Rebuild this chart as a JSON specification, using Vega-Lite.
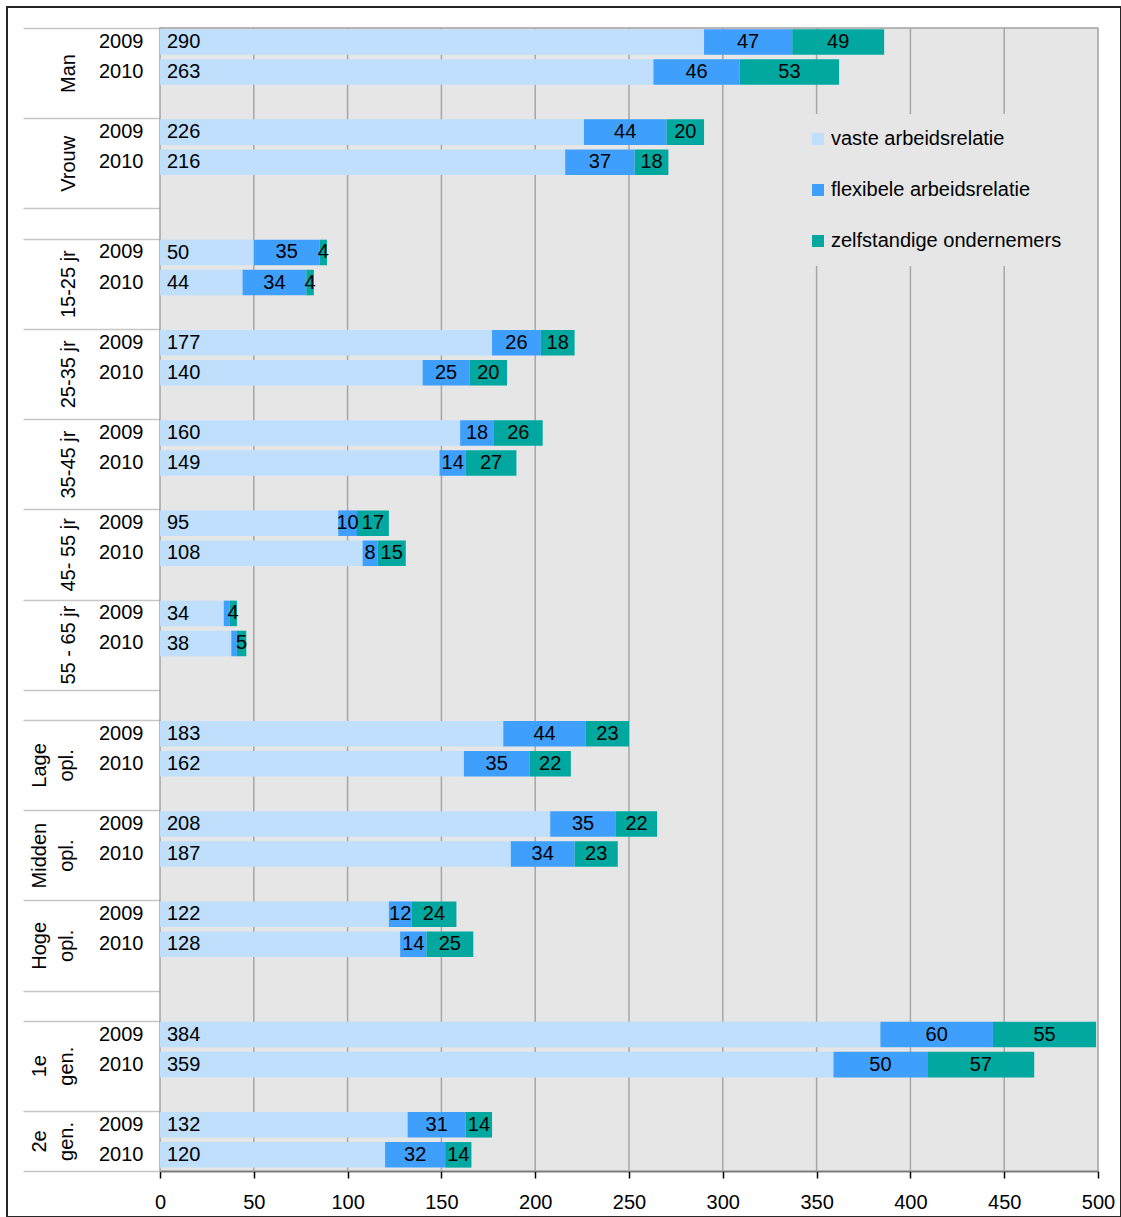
{
  "$schema": "https://vega.github.io/schema/vega-lite/v6.json",
  "width": 1114,
  "height": 1210,
  "autosize": {"type": "none"},
  "padding": {"left": 7, "top": 7, "right": 0, "bottom": 0},
  "background": "#ffffff",
  "config": {
    "font": "Liberation Sans",
    "view": {"stroke": "#262626", "strokeWidth": 2},
    "axisX": {"offset": -46, "tickCount": 10, "labelFlush": false, "domainColor": "#000000", "domainWidth": 1.5, "tickColor": "#000000", "tickWidth": 1.5, "tickSize": 7, "labelFontSize": 20, "labelColor": "#000000", "labelPadding": 14, "grid": false},
    "text": {"fontSize": 20, "color": "#000000"}
  },
  "datasets": {
    "grid": [{"g": 50}, {"g": 100}, {"g": 150}, {"g": 200}, {"g": 250}, {"g": 300}, {"g": 350}, {"g": 400}, {"g": 450}],
    "d": [
      {"row": "Man|2009", "type": "vaste arbeidsrelatie", "k": 1, "value": 290},
      {"row": "Man|2009", "type": "flexibele arbeidsrelatie", "k": 2, "value": 47},
      {"row": "Man|2009", "type": "zelfstandige ondernemers", "k": 3, "value": 49},
      {"row": "Man|2010", "type": "vaste arbeidsrelatie", "k": 1, "value": 263},
      {"row": "Man|2010", "type": "flexibele arbeidsrelatie", "k": 2, "value": 46},
      {"row": "Man|2010", "type": "zelfstandige ondernemers", "k": 3, "value": 53},
      {"row": "Vrouw|2009", "type": "vaste arbeidsrelatie", "k": 1, "value": 226},
      {"row": "Vrouw|2009", "type": "flexibele arbeidsrelatie", "k": 2, "value": 44},
      {"row": "Vrouw|2009", "type": "zelfstandige ondernemers", "k": 3, "value": 20},
      {"row": "Vrouw|2010", "type": "vaste arbeidsrelatie", "k": 1, "value": 216},
      {"row": "Vrouw|2010", "type": "flexibele arbeidsrelatie", "k": 2, "value": 37},
      {"row": "Vrouw|2010", "type": "zelfstandige ondernemers", "k": 3, "value": 18},
      {"row": "15-25 jr|2009", "type": "vaste arbeidsrelatie", "k": 1, "value": 50},
      {"row": "15-25 jr|2009", "type": "flexibele arbeidsrelatie", "k": 2, "value": 35},
      {"row": "15-25 jr|2009", "type": "zelfstandige ondernemers", "k": 3, "value": 4},
      {"row": "15-25 jr|2010", "type": "vaste arbeidsrelatie", "k": 1, "value": 44},
      {"row": "15-25 jr|2010", "type": "flexibele arbeidsrelatie", "k": 2, "value": 34},
      {"row": "15-25 jr|2010", "type": "zelfstandige ondernemers", "k": 3, "value": 4},
      {"row": "25-35 jr|2009", "type": "vaste arbeidsrelatie", "k": 1, "value": 177},
      {"row": "25-35 jr|2009", "type": "flexibele arbeidsrelatie", "k": 2, "value": 26},
      {"row": "25-35 jr|2009", "type": "zelfstandige ondernemers", "k": 3, "value": 18},
      {"row": "25-35 jr|2010", "type": "vaste arbeidsrelatie", "k": 1, "value": 140},
      {"row": "25-35 jr|2010", "type": "flexibele arbeidsrelatie", "k": 2, "value": 25},
      {"row": "25-35 jr|2010", "type": "zelfstandige ondernemers", "k": 3, "value": 20},
      {"row": "35-45 jr|2009", "type": "vaste arbeidsrelatie", "k": 1, "value": 160},
      {"row": "35-45 jr|2009", "type": "flexibele arbeidsrelatie", "k": 2, "value": 18},
      {"row": "35-45 jr|2009", "type": "zelfstandige ondernemers", "k": 3, "value": 26},
      {"row": "35-45 jr|2010", "type": "vaste arbeidsrelatie", "k": 1, "value": 149},
      {"row": "35-45 jr|2010", "type": "flexibele arbeidsrelatie", "k": 2, "value": 14},
      {"row": "35-45 jr|2010", "type": "zelfstandige ondernemers", "k": 3, "value": 27},
      {"row": "45- 55 jr|2009", "type": "vaste arbeidsrelatie", "k": 1, "value": 95},
      {"row": "45- 55 jr|2009", "type": "flexibele arbeidsrelatie", "k": 2, "value": 10},
      {"row": "45- 55 jr|2009", "type": "zelfstandige ondernemers", "k": 3, "value": 17},
      {"row": "45- 55 jr|2010", "type": "vaste arbeidsrelatie", "k": 1, "value": 108},
      {"row": "45- 55 jr|2010", "type": "flexibele arbeidsrelatie", "k": 2, "value": 8},
      {"row": "45- 55 jr|2010", "type": "zelfstandige ondernemers", "k": 3, "value": 15},
      {"row": "55 - 65 jr|2009", "type": "vaste arbeidsrelatie", "k": 1, "value": 34},
      {"row": "55 - 65 jr|2009", "type": "flexibele arbeidsrelatie", "k": 2, "value": 3},
      {"row": "55 - 65 jr|2009", "type": "zelfstandige ondernemers", "k": 3, "value": 4},
      {"row": "55 - 65 jr|2010", "type": "vaste arbeidsrelatie", "k": 1, "value": 38},
      {"row": "55 - 65 jr|2010", "type": "flexibele arbeidsrelatie", "k": 2, "value": 3},
      {"row": "55 - 65 jr|2010", "type": "zelfstandige ondernemers", "k": 3, "value": 5},
      {"row": "Lage opl.|2009", "type": "vaste arbeidsrelatie", "k": 1, "value": 183},
      {"row": "Lage opl.|2009", "type": "flexibele arbeidsrelatie", "k": 2, "value": 44},
      {"row": "Lage opl.|2009", "type": "zelfstandige ondernemers", "k": 3, "value": 23},
      {"row": "Lage opl.|2010", "type": "vaste arbeidsrelatie", "k": 1, "value": 162},
      {"row": "Lage opl.|2010", "type": "flexibele arbeidsrelatie", "k": 2, "value": 35},
      {"row": "Lage opl.|2010", "type": "zelfstandige ondernemers", "k": 3, "value": 22},
      {"row": "Midden opl.|2009", "type": "vaste arbeidsrelatie", "k": 1, "value": 208},
      {"row": "Midden opl.|2009", "type": "flexibele arbeidsrelatie", "k": 2, "value": 35},
      {"row": "Midden opl.|2009", "type": "zelfstandige ondernemers", "k": 3, "value": 22},
      {"row": "Midden opl.|2010", "type": "vaste arbeidsrelatie", "k": 1, "value": 187},
      {"row": "Midden opl.|2010", "type": "flexibele arbeidsrelatie", "k": 2, "value": 34},
      {"row": "Midden opl.|2010", "type": "zelfstandige ondernemers", "k": 3, "value": 23},
      {"row": "Hoge opl.|2009", "type": "vaste arbeidsrelatie", "k": 1, "value": 122},
      {"row": "Hoge opl.|2009", "type": "flexibele arbeidsrelatie", "k": 2, "value": 12},
      {"row": "Hoge opl.|2009", "type": "zelfstandige ondernemers", "k": 3, "value": 24},
      {"row": "Hoge opl.|2010", "type": "vaste arbeidsrelatie", "k": 1, "value": 128},
      {"row": "Hoge opl.|2010", "type": "flexibele arbeidsrelatie", "k": 2, "value": 14},
      {"row": "Hoge opl.|2010", "type": "zelfstandige ondernemers", "k": 3, "value": 25},
      {"row": "1e gen.|2009", "type": "vaste arbeidsrelatie", "k": 1, "value": 384},
      {"row": "1e gen.|2009", "type": "flexibele arbeidsrelatie", "k": 2, "value": 60},
      {"row": "1e gen.|2009", "type": "zelfstandige ondernemers", "k": 3, "value": 55},
      {"row": "1e gen.|2010", "type": "vaste arbeidsrelatie", "k": 1, "value": 359},
      {"row": "1e gen.|2010", "type": "flexibele arbeidsrelatie", "k": 2, "value": 50},
      {"row": "1e gen.|2010", "type": "zelfstandige ondernemers", "k": 3, "value": 57},
      {"row": "2e gen.|2009", "type": "vaste arbeidsrelatie", "k": 1, "value": 132},
      {"row": "2e gen.|2009", "type": "flexibele arbeidsrelatie", "k": 2, "value": 31},
      {"row": "2e gen.|2009", "type": "zelfstandige ondernemers", "k": 3, "value": 14},
      {"row": "2e gen.|2010", "type": "vaste arbeidsrelatie", "k": 1, "value": 120},
      {"row": "2e gen.|2010", "type": "flexibele arbeidsrelatie", "k": 2, "value": 32},
      {"row": "2e gen.|2010", "type": "zelfstandige ondernemers", "k": 3, "value": 14}
    ]
  },
  "resolve": {"scale": {"y": "independent"}},
  "layer": [
    {
      "layer": [
        {
          "data": {"values": [{"plot": "area"}]},
          "mark": {"type": "rect", "fill": "#e6e6e6", "stroke": "#a3a3a3", "strokeWidth": 1.5},
          "encoding": {
            "x": {"datum": 0, "type": "quantitative", "scale": {"domain": [0, 500], "range": [153, 1091], "nice": false, "zero": true}, "title": null},
            "x2": {"datum": 500},
            "y": {"datum": 0, "type": "quantitative", "scale": {"domain": [0, 1], "range": [21, 1164], "nice": false, "zero": false}, "axis": null},
            "y2": {"datum": 1}
          }
        },
        {
          "data": {"name": "grid"},
          "mark": {"type": "rule", "color": "#a6a6a6", "strokeWidth": 1.5},
          "encoding": {
            "x": {"field": "g", "type": "quantitative", "title": null},
            "y": {"datum": 0, "type": "quantitative", "axis": null},
            "y2": {"datum": 1}
          }
        }
      ]
    },
    {
      "data": {"name": "d"},
      "layer": [
        {
          "mark": {"type": "bar"},
          "encoding": {
            "y": {
              "field": "row", "type": "nominal",
              "scale": {
                "domain": ["Man|2009","Man|2010","Man|","Vrouw|2009","Vrouw|2010","Vrouw|","gap1","15-25 jr|2009","15-25 jr|2010","15-25 jr|","25-35 jr|2009","25-35 jr|2010","25-35 jr|","35-45 jr|2009","35-45 jr|2010","35-45 jr|","45- 55 jr|2009","45- 55 jr|2010","45- 55 jr|","55 - 65 jr|2009","55 - 65 jr|2010","55 - 65 jr|","gap2","Lage opl.|2009","Lage opl.|2010","Lage opl.|","Midden opl.|2009","Midden opl.|2010","Midden opl.|","Hoge opl.|2009","Hoge opl.|2010","Hoge opl.|","gap3","1e gen.|2009","1e gen.|2010","1e gen.|","2e gen.|2009","2e gen.|2010"],
                "range": [21, 1164], "paddingInner": 0.15, "paddingOuter": 0.075, "align": 0.25
              },
              "axis": {"orient": "left", "offset": -153, "title": null, "domain": false, "ticks": false, "grid": false, "labelExpr": "indexof(datum.value, '|') > 0 ? split(datum.value, '|')[1] : ''", "labelPadding": 17, "labelFontSize": 20, "labelColor": "#000000", "labelAlign": "right", "labelBaseline": "middle", "labelAngle": 0, "labelOverlap": false}
            },
            "x": {"field": "value", "type": "quantitative", "stack": "zero", "title": null},
            "color": {
              "field": "type", "type": "nominal",
              "scale": {"domain": ["vaste arbeidsrelatie", "flexibele arbeidsrelatie", "zelfstandige ondernemers"], "range": ["#bfdffc", "#3f9ffd", "#00a8a0"]},
              "legend": {"orient": "none", "legendX": 786, "legendY": 107, "title": null, "symbolType": "square", "symbolSize": 144, "symbolStrokeWidth": 0, "labelFontSize": 20, "labelColor": "#000000", "labelOffset": 3, "rowPadding": 31, "padding": 15, "fillColor": "#e6e6e6", "labelLimit": 400}
            },
            "order": {"field": "k", "type": "quantitative", "sort": "ascending"}
          }
        },
        {
          "mark": {"type": "text", "align": "center", "baseline": "middle", "fontSize": 20, "color": "#000000"},
          "encoding": {
            "y": {"field": "row", "type": "nominal"},
            "x": {"field": "value", "type": "quantitative", "stack": "zero", "bandPosition": 0.5, "title": null},
            "detail": {"field": "type", "type": "nominal"},
            "order": {"field": "k", "type": "quantitative", "sort": "ascending"},
            "text": {"condition": {"test": "datum.k == 1 || datum.value < 4", "value": ""}, "field": "value", "type": "quantitative"}
          }
        }
      ]
    },
    {
      "data": {"name": "d"},
      "transform": [{"filter": "datum.k == 1"}],
      "mark": {"type": "text", "align": "left", "baseline": "middle", "dx": 7, "dy": -1, "fontSize": 20, "color": "#000000"},
      "encoding": {
        "y": {
          "field": "row", "type": "nominal",
          "scale": {
            "domain": ["Man|2009","Man|2010","Man|","Vrouw|2009","Vrouw|2010","Vrouw|","gap1","15-25 jr|2009","15-25 jr|2010","15-25 jr|","25-35 jr|2009","25-35 jr|2010","25-35 jr|","35-45 jr|2009","35-45 jr|2010","35-45 jr|","45- 55 jr|2009","45- 55 jr|2010","45- 55 jr|","55 - 65 jr|2009","55 - 65 jr|2010","55 - 65 jr|","gap2","Lage opl.|2009","Lage opl.|2010","Lage opl.|","Midden opl.|2009","Midden opl.|2010","Midden opl.|","Hoge opl.|2009","Hoge opl.|2010","Hoge opl.|","gap3","1e gen.|2009","1e gen.|2010","1e gen.|","2e gen.|2009","2e gen.|2010","end"],
            "range": [21, 1194.08], "paddingInner": 0, "paddingOuter": 0
          },
          "axis": {
            "orient": "left", "offset": -153, "title": null, "domain": false, "grid": false, "tickOffset": -15.04,
            "ticks": true, "tickSize": 137, "tickColor": "#c6c6c6", "tickWidth": 1.5,
            "tickOpacity": {"condition": {"test": "indexof(datum.value, '|2009') > 0 || indexof(datum.value, '|') < 0", "value": 1}, "value": 0},
            "labelExpr": "indexof(datum.value, '|2010') > 0 ? ((indexof(datum.value, 'opl.') > 0 || indexof(datum.value, 'gen.') > 0) ? split(split(datum.value, '|')[0], ' ') : split(datum.value, '|')[0]) : ''",
            "labelAngle": 270, "labelAlign": "center", "labelBaseline": "bottom",
            "labelPadding": {"condition": {"test": "indexof(datum.value, 'opl.') > 0 || indexof(datum.value, 'gen.') > 0", "value": -26}, "value": -55},
            "labelFontSize": 20, "labelColor": "#000000", "labelLineHeight": 27,
            "labelOffset": {"condition": {"test": "indexof(datum.value, '2e gen') == 0", "value": 0}, "value": 15},
            "labelOverlap": false, "labelBound": false
          }
        },
        "x": {"datum": 0, "type": "quantitative", "title": null},
        "text": {"field": "value", "type": "quantitative"}
      }
    }
  ]
}
